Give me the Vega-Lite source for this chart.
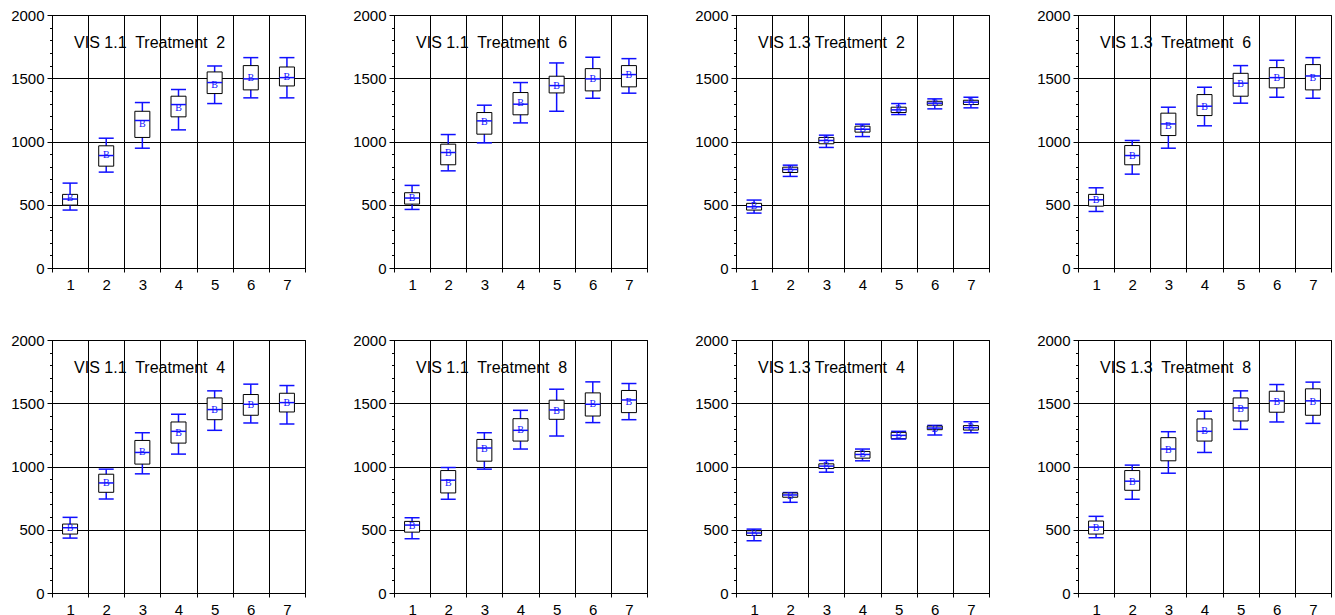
{
  "$schema": "https://vega.github.io/schema/vega-lite/v6.json",
  "padding": {"left": 10, "top": 7, "right": 0, "bottom": 0},
  "bounds": "flush",
  "spacing": {"row": 72, "column": 89},
  "background": "white",
  "config": {
    "font": "Liberation Sans",
    "view": {"stroke": "black", "strokeWidth": 1},
    "header": {"labels": false, "title": null, "labelFontSize": 0, "labelPadding": 0, "titlePadding": 0},
    "axis": {"labelFont": "Liberation Sans", "labelColor": "black", "labelFontSize": 15, "domainColor": "black", "tickColor": "black", "gridColor": "black", "gridOpacity": 1, "title": null}
  },
  "data": {"values": [
    {"p": 1, "t": "VIS 1.1\u00a0 Treatment\u00a0 2", "c": 1, "lo": 458, "q1": 497, "md": 545, "q3": 582, "hi": 671, "mn": 553},
    {"p": 1, "t": "VIS 1.1\u00a0 Treatment\u00a0 2", "c": 2, "lo": 758, "q1": 805, "md": 889, "q3": 966, "hi": 1026, "mn": 892},
    {"p": 1, "t": "VIS 1.1\u00a0 Treatment\u00a0 2", "c": 3, "lo": 947, "q1": 1032, "md": 1166, "q3": 1239, "hi": 1308, "mn": 1142},
    {"p": 1, "t": "VIS 1.1\u00a0 Treatment\u00a0 2", "c": 4, "lo": 1092, "q1": 1195, "md": 1292, "q3": 1358, "hi": 1411, "mn": 1268},
    {"p": 1, "t": "VIS 1.1\u00a0 Treatment\u00a0 2", "c": 5, "lo": 1300, "q1": 1379, "md": 1466, "q3": 1550, "hi": 1597, "mn": 1450},
    {"p": 1, "t": "VIS 1.1\u00a0 Treatment\u00a0 2", "c": 6, "lo": 1345, "q1": 1408, "md": 1495, "q3": 1600, "hi": 1663, "mn": 1505},
    {"p": 1, "t": "VIS 1.1\u00a0 Treatment\u00a0 2", "c": 7, "lo": 1345, "q1": 1439, "md": 1505, "q3": 1589, "hi": 1663, "mn": 1510},
    {"p": 2, "t": "VIS 1.1\u00a0 Treatment\u00a0 6", "c": 1, "lo": 463, "q1": 505, "md": 553, "q3": 595, "hi": 653, "mn": 553},
    {"p": 2, "t": "VIS 1.1\u00a0 Treatment\u00a0 6", "c": 2, "lo": 768, "q1": 816, "md": 913, "q3": 979, "hi": 1055, "mn": 913},
    {"p": 2, "t": "VIS 1.1\u00a0 Treatment\u00a0 6", "c": 3, "lo": 989, "q1": 1058, "md": 1163, "q3": 1229, "hi": 1287, "mn": 1153},
    {"p": 2, "t": "VIS 1.1\u00a0 Treatment\u00a0 6", "c": 4, "lo": 1147, "q1": 1211, "md": 1295, "q3": 1387, "hi": 1466, "mn": 1303},
    {"p": 2, "t": "VIS 1.1\u00a0 Treatment\u00a0 6", "c": 5, "lo": 1239, "q1": 1384, "md": 1442, "q3": 1516, "hi": 1621, "mn": 1442},
    {"p": 2, "t": "VIS 1.1\u00a0 Treatment\u00a0 6", "c": 6, "lo": 1342, "q1": 1400, "md": 1495, "q3": 1576, "hi": 1666, "mn": 1497},
    {"p": 2, "t": "VIS 1.1\u00a0 Treatment\u00a0 6", "c": 7, "lo": 1382, "q1": 1432, "md": 1529, "q3": 1600, "hi": 1655, "mn": 1524},
    {"p": 3, "t": "VIS 1.3 Treatment\u00a0 2", "c": 1, "lo": 434, "q1": 458, "md": 484, "q3": 511, "hi": 537, "mn": 492},
    {"p": 3, "t": "VIS 1.3 Treatment\u00a0 2", "c": 2, "lo": 724, "q1": 755, "md": 779, "q3": 797, "hi": 813, "mn": 779},
    {"p": 3, "t": "VIS 1.3 Treatment\u00a0 2", "c": 3, "lo": 953, "q1": 982, "md": 1008, "q3": 1032, "hi": 1050, "mn": 1011},
    {"p": 3, "t": "VIS 1.3 Treatment\u00a0 2", "c": 4, "lo": 1039, "q1": 1074, "md": 1097, "q3": 1121, "hi": 1137, "mn": 1097},
    {"p": 3, "t": "VIS 1.3 Treatment\u00a0 2", "c": 5, "lo": 1213, "q1": 1229, "md": 1250, "q3": 1271, "hi": 1300, "mn": 1258},
    {"p": 3, "t": "VIS 1.3 Treatment\u00a0 2", "c": 6, "lo": 1258, "q1": 1287, "md": 1303, "q3": 1318, "hi": 1337, "mn": 1303},
    {"p": 3, "t": "VIS 1.3 Treatment\u00a0 2", "c": 7, "lo": 1266, "q1": 1292, "md": 1311, "q3": 1326, "hi": 1350, "mn": 1313},
    {"p": 4, "t": "VIS 1.3\u00a0 Treatment\u00a0 6", "c": 1, "lo": 447, "q1": 489, "md": 539, "q3": 582, "hi": 634, "mn": 537},
    {"p": 4, "t": "VIS 1.3\u00a0 Treatment\u00a0 6", "c": 2, "lo": 742, "q1": 816, "md": 889, "q3": 968, "hi": 1008, "mn": 889},
    {"p": 4, "t": "VIS 1.3\u00a0 Treatment\u00a0 6", "c": 3, "lo": 947, "q1": 1047, "md": 1139, "q3": 1224, "hi": 1271, "mn": 1126},
    {"p": 4, "t": "VIS 1.3\u00a0 Treatment\u00a0 6", "c": 4, "lo": 1124, "q1": 1205, "md": 1279, "q3": 1371, "hi": 1429, "mn": 1276},
    {"p": 4, "t": "VIS 1.3\u00a0 Treatment\u00a0 6", "c": 5, "lo": 1303, "q1": 1358, "md": 1461, "q3": 1539, "hi": 1600, "mn": 1453},
    {"p": 4, "t": "VIS 1.3\u00a0 Treatment\u00a0 6", "c": 6, "lo": 1350, "q1": 1424, "md": 1505, "q3": 1584, "hi": 1642, "mn": 1505},
    {"p": 4, "t": "VIS 1.3\u00a0 Treatment\u00a0 6", "c": 7, "lo": 1342, "q1": 1408, "md": 1518, "q3": 1608, "hi": 1663, "mn": 1505},
    {"p": 5, "t": "VIS 1.1\u00a0 Treatment\u00a0 4", "c": 1, "lo": 434, "q1": 466, "md": 516, "q3": 545, "hi": 598, "mn": 511},
    {"p": 5, "t": "VIS 1.1\u00a0 Treatment\u00a0 4", "c": 2, "lo": 743, "q1": 796, "md": 870, "q3": 939, "hi": 979, "mn": 868},
    {"p": 5, "t": "VIS 1.1\u00a0 Treatment\u00a0 4", "c": 3, "lo": 942, "q1": 1019, "md": 1111, "q3": 1206, "hi": 1267, "mn": 1111},
    {"p": 5, "t": "VIS 1.1\u00a0 Treatment\u00a0 4", "c": 4, "lo": 1098, "q1": 1185, "md": 1278, "q3": 1352, "hi": 1413, "mn": 1262},
    {"p": 5, "t": "VIS 1.1\u00a0 Treatment\u00a0 4", "c": 5, "lo": 1286, "q1": 1370, "md": 1450, "q3": 1542, "hi": 1598, "mn": 1444},
    {"p": 5, "t": "VIS 1.1\u00a0 Treatment\u00a0 4", "c": 6, "lo": 1344, "q1": 1405, "md": 1492, "q3": 1569, "hi": 1651, "mn": 1489},
    {"p": 5, "t": "VIS 1.1\u00a0 Treatment\u00a0 4", "c": 7, "lo": 1336, "q1": 1431, "md": 1505, "q3": 1579, "hi": 1640, "mn": 1500},
    {"p": 6, "t": "VIS 1.1\u00a0 Treatment\u00a0 8", "c": 1, "lo": 429, "q1": 481, "md": 537, "q3": 566, "hi": 595, "mn": 526},
    {"p": 6, "t": "VIS 1.1\u00a0 Treatment\u00a0 8", "c": 2, "lo": 741, "q1": 791, "md": 892, "q3": 968, "hi": 992, "mn": 870},
    {"p": 6, "t": "VIS 1.1\u00a0 Treatment\u00a0 8", "c": 3, "lo": 979, "q1": 1042, "md": 1146, "q3": 1214, "hi": 1267, "mn": 1135},
    {"p": 6, "t": "VIS 1.1\u00a0 Treatment\u00a0 8", "c": 4, "lo": 1138, "q1": 1201, "md": 1286, "q3": 1378, "hi": 1444, "mn": 1286},
    {"p": 6, "t": "VIS 1.1\u00a0 Treatment\u00a0 8", "c": 5, "lo": 1241, "q1": 1373, "md": 1447, "q3": 1524, "hi": 1611, "mn": 1437},
    {"p": 6, "t": "VIS 1.1\u00a0 Treatment\u00a0 8", "c": 6, "lo": 1347, "q1": 1399, "md": 1492, "q3": 1582, "hi": 1669, "mn": 1497},
    {"p": 6, "t": "VIS 1.1\u00a0 Treatment\u00a0 8", "c": 7, "lo": 1370, "q1": 1426, "md": 1526, "q3": 1601, "hi": 1656, "mn": 1508},
    {"p": 7, "t": "VIS 1.3 Treatment\u00a0 4", "c": 1, "lo": 413, "q1": 455, "md": 474, "q3": 492, "hi": 505, "mn": 474},
    {"p": 7, "t": "VIS 1.3 Treatment\u00a0 4", "c": 2, "lo": 717, "q1": 757, "md": 775, "q3": 791, "hi": 794, "mn": 770},
    {"p": 7, "t": "VIS 1.3 Treatment\u00a0 4", "c": 3, "lo": 955, "q1": 984, "md": 1003, "q3": 1021, "hi": 1048, "mn": 1003},
    {"p": 7, "t": "VIS 1.3 Treatment\u00a0 4", "c": 4, "lo": 1045, "q1": 1066, "md": 1095, "q3": 1119, "hi": 1138, "mn": 1095},
    {"p": 7, "t": "VIS 1.3 Treatment\u00a0 4", "c": 5, "lo": 1217, "q1": 1220, "md": 1246, "q3": 1270, "hi": 1278, "mn": 1246},
    {"p": 7, "t": "VIS 1.3 Treatment\u00a0 4", "c": 6, "lo": 1249, "q1": 1291, "md": 1304, "q3": 1320, "hi": 1325, "mn": 1294},
    {"p": 7, "t": "VIS 1.3 Treatment\u00a0 4", "c": 7, "lo": 1267, "q1": 1288, "md": 1307, "q3": 1323, "hi": 1354, "mn": 1312},
    {"p": 8, "t": "VIS 1.3\u00a0 Treatment\u00a0 8", "c": 1, "lo": 437, "q1": 466, "md": 521, "q3": 569, "hi": 606, "mn": 516},
    {"p": 8, "t": "VIS 1.3\u00a0 Treatment\u00a0 8", "c": 2, "lo": 741, "q1": 812, "md": 884, "q3": 968, "hi": 1011, "mn": 881},
    {"p": 8, "t": "VIS 1.3\u00a0 Treatment\u00a0 8", "c": 3, "lo": 947, "q1": 1045, "md": 1138, "q3": 1228, "hi": 1275, "mn": 1127},
    {"p": 8, "t": "VIS 1.3\u00a0 Treatment\u00a0 8", "c": 4, "lo": 1111, "q1": 1201, "md": 1278, "q3": 1376, "hi": 1437, "mn": 1278},
    {"p": 8, "t": "VIS 1.3\u00a0 Treatment\u00a0 8", "c": 5, "lo": 1294, "q1": 1360, "md": 1463, "q3": 1542, "hi": 1598, "mn": 1455},
    {"p": 8, "t": "VIS 1.3\u00a0 Treatment\u00a0 8", "c": 6, "lo": 1352, "q1": 1429, "md": 1519, "q3": 1595, "hi": 1648, "mn": 1508},
    {"p": 8, "t": "VIS 1.3\u00a0 Treatment\u00a0 8", "c": 7, "lo": 1341, "q1": 1405, "md": 1519, "q3": 1614, "hi": 1667, "mn": 1508}
  ]},
  "columns": 4,
  "facet": {"field": "p", "type": "ordinal", "header": {"labels": false, "title": null, "labelFontSize": 0}},
  "resolve": {"axis": {"x": "independent", "y": "independent"}},
  "spec": {
    "width": 253,
    "height": 253,
    "encoding": {
      "x": {
        "field": "c", "type": "ordinal",
        "scale": {"type": "band", "paddingInner": 0, "paddingOuter": 0},
        "axis": {"labelAngle": 0, "tickBand": "extent", "grid": true, "tickSize": 4, "labelPadding": 5, "domainColor": "black"}
      }
    },
    "resolve": {"axis": {"y": "independent"}},
    "layer": [
      {
        "layer": [
          {
            "mark": {"type": "rule", "color": "#1010ff", "strokeWidth": 1.5},
            "encoding": {
              "y": {
                "field": "lo", "type": "quantitative",
                "scale": {"domain": [0, 2000], "nice": false, "zero": true},
                "axis": {"values": [0, 500, 1000, 1500, 2000], "format": "d", "grid": true, "tickSize": 5, "labelPadding": 3, "labelOverlap": false, "orient": "left"}
              },
              "y2": {"field": "hi"}
            }
          },
          {
            "mark": {"type": "tick", "color": "#1010ff", "size": 15, "thickness": 1.5, "opacity": 1},
            "encoding": {"y": {"field": "hi", "type": "quantitative"}}
          },
          {
            "mark": {"type": "bar", "fill": "white", "stroke": "black", "strokeWidth": 1, "size": 15},
            "encoding": {"y": {"field": "q1", "type": "quantitative"}, "y2": {"field": "q3"}}
          },
          {
            "mark": {"type": "tick", "color": "#1010ff", "size": 15, "thickness": 1.5, "opacity": 1},
            "encoding": {"y": {"field": "md", "type": "quantitative"}}
          },
          {
            "mark": {"type": "text", "text": "B", "color": "#1010ff", "font": "Liberation Serif", "fontSize": 10, "baseline": "middle", "align": "center"},
            "encoding": {"y": {"field": "mn", "type": "quantitative"}}
          },
          {
            "transform": [{"filter": "datum.c == 1"}],
            "mark": {"type": "text", "color": "black", "font": "Liberation Sans", "fontSize": 16, "align": "left", "baseline": "alphabetic", "dx": 4},
            "encoding": {"text": {"field": "t"}, "y": {"datum": 1737, "type": "quantitative"}}
          }
        ]
      },
      {
        "mark": {"type": "tick", "color": "#1010ff", "size": 15, "thickness": 1.5, "opacity": 1},
        "encoding": {
          "y": {
            "field": "lo", "type": "quantitative",
            "axis": {
              "orient": "left",
              "values": [0, 100, 200, 300, 400, 500, 600, 700, 800, 900, 1000, 1100, 1200, 1300, 1400, 1500, 1600, 1700, 1800, 1900, 2000],
              "labels": false, "grid": false, "domain": false, "tickSize": 2.5
            }
          }
        }
      }
    ]
  }
}
